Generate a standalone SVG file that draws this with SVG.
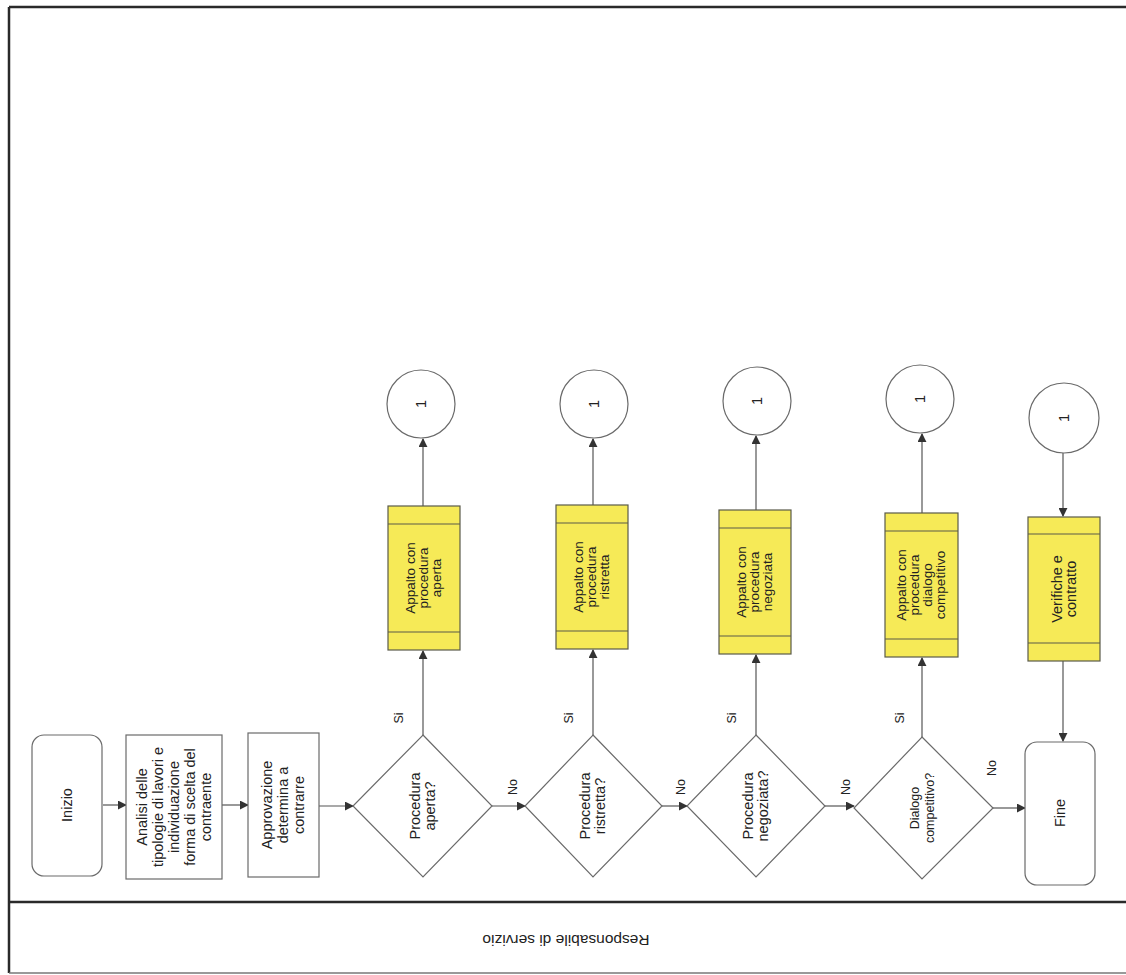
<svg xmlns="http://www.w3.org/2000/svg" width="1126" height="975" viewBox="0 0 1126 975">
<defs>
<style>
.frame{fill:none;stroke:#2a2a2a;stroke-width:2.5}
.box{fill:#ffffff;stroke:#6a6a6a;stroke-width:1.2}
.yel{fill:#f6ea57;stroke:#5a5a4a;stroke-width:1.2}
.yl{stroke:#5a5a4a;stroke-width:1.2}
.conn{fill:none;stroke:#555;stroke-width:1.2}
text{font-family:"Liberation Sans",Arial,sans-serif;font-size:14.5px;fill:#222;text-anchor:middle}
.lbl{font-size:12.5px}
.ytx{font-size:13.5px}
.sm{font-size:12.5px}
.lane{font-size:15.5px}
</style>
<marker id="arr" viewBox="0 0 10 10" refX="9" refY="5" markerWidth="9" markerHeight="9" markerUnits="userSpaceOnUse" orient="auto">
<path d="M0,0 L10,5 L0,10 z" fill="#333"/>
</marker>
</defs>
<rect width="1126" height="975" fill="#ffffff"/>
<g id="frame">
<line class="frame" x1="9" y1="7" x2="1126" y2="7"/>
<line class="frame" x1="9" y1="7" x2="9" y2="973"/>
<line class="frame" x1="9" y1="902" x2="1126" y2="902"/>
<line x1="9" y1="973" x2="1126" y2="973" stroke="#777" stroke-width="1.5"/>
<text class="lane" transform="translate(566,940) rotate(180)" dy="5">Responsabile di servizio</text>
</g>
<g id="connectors">
<line class="conn" x1="103" y1="805" x2="126" y2="805" marker-end="url(#arr)"/>
<line class="conn" x1="222" y1="805" x2="248" y2="805" marker-end="url(#arr)"/>
<line class="conn" x1="319" y1="806" x2="353" y2="806" marker-end="url(#arr)"/>
<line class="conn" x1="492" y1="806" x2="525" y2="806" marker-end="url(#arr)"/>
<line class="conn" x1="662" y1="806" x2="687" y2="806" marker-end="url(#arr)"/>
<line class="conn" x1="825" y1="806" x2="854" y2="806" marker-end="url(#arr)"/>
<line class="conn" x1="993" y1="808" x2="1025" y2="808" marker-end="url(#arr)"/>
<line class="conn" x1="423" y1="735" x2="423" y2="651" marker-end="url(#arr)"/>
<line class="conn" x1="593" y1="735" x2="593" y2="650" marker-end="url(#arr)"/>
<line class="conn" x1="756" y1="735" x2="756" y2="655" marker-end="url(#arr)"/>
<line class="conn" x1="922" y1="737" x2="922" y2="658" marker-end="url(#arr)"/>
<line class="conn" x1="423" y1="506" x2="423" y2="439" marker-end="url(#arr)"/>
<line class="conn" x1="593" y1="505" x2="593" y2="439" marker-end="url(#arr)"/>
<line class="conn" x1="756" y1="510" x2="756" y2="436" marker-end="url(#arr)"/>
<line class="conn" x1="922" y1="513" x2="922" y2="434" marker-end="url(#arr)"/>
<line class="conn" x1="1063" y1="453" x2="1063" y2="516" marker-end="url(#arr)"/>
<line class="conn" x1="1063" y1="661" x2="1063" y2="741" marker-end="url(#arr)"/>
<text class="lbl" transform="translate(398,718) rotate(-90)" dy="5">Si</text>
<text class="lbl" transform="translate(568,718) rotate(-90)" dy="5">Si</text>
<text class="lbl" transform="translate(731,718) rotate(-90)" dy="5">Si</text>
<text class="lbl" transform="translate(899,718) rotate(-90)" dy="5">Si</text>
<text class="lbl" transform="translate(512,787) rotate(-90)" dy="5">No</text>
<text class="lbl" transform="translate(680,787) rotate(-90)" dy="5">No</text>
<text class="lbl" transform="translate(845,787) rotate(-90)" dy="5">No</text>
<text class="lbl" transform="translate(991,768) rotate(-90)" dy="5">No</text>
</g>
<g id="n-inizio">
<rect class="box" x="32" y="735" width="70" height="141" rx="12"/>
<text transform="translate(67,805) rotate(-90)" dy="5">Inizio</text>
</g>
<g id="n-analisi">
<rect class="box" x="126" y="735" width="96" height="144"/>
<text transform="translate(174,807) rotate(-90)"><tspan x="0" dy="-27">Analisi delle</tspan><tspan x="0" dy="16">tipologie di lavori e</tspan><tspan x="0" dy="16">individuazione</tspan><tspan x="0" dy="16">forma di scelta del</tspan><tspan x="0" dy="16">contraente</tspan></text>
</g>
<g id="n-approvazione">
<rect class="box" x="248" y="733" width="71" height="144"/>
<text transform="translate(283,805) rotate(-90)"><tspan x="0" dy="-11">Approvazione</tspan><tspan x="0" dy="16">determina a</tspan><tspan x="0" dy="16">contrarre</tspan></text>
</g>
<g id="d-aperta">
<polygon class="box" points="423,735 492,806 423,877 353,806"/>
<text transform="translate(423,806) rotate(-90)"><tspan x="0" dy="-3">Procedura</tspan><tspan x="0" dy="15">aperta?</tspan></text>
</g>
<g id="d-ristretta">
<polygon class="box" points="593,735 662,806 593,877 525,806"/>
<text transform="translate(593,806) rotate(-90)"><tspan x="0" dy="-3">Procedura</tspan><tspan x="0" dy="15">ristretta?</tspan></text>
</g>
<g id="d-negoziata">
<polygon class="box" points="756,735 825,806 756,877 687,806"/>
<text transform="translate(756,806) rotate(-90)"><tspan x="0" dy="-3">Procedura</tspan><tspan x="0" dy="15">negoziata?</tspan></text>
</g>
<g id="d-dialogo">
<polygon class="box" points="922,737 993,808 922,879 854,808"/>
<text class="sm" transform="translate(922,808) rotate(-90)"><tspan x="0" dy="-3">Dialogo</tspan><tspan x="0" dy="15">competitivo?</tspan></text>
</g>
<g id="n-fine">
<rect class="box" x="1025" y="742" width="70" height="143" rx="12"/>
<text transform="translate(1060,813) rotate(-90)" dy="5">Fine</text>
</g>
<g id="p-aperta">
<rect class="yel" x="388" y="506" width="72" height="144"/>
<line class="yl" x1="388" y1="524" x2="460" y2="524"/>
<line class="yl" x1="388" y1="632" x2="460" y2="632"/>
<text class="ytx" transform="translate(424,578) rotate(-90)"><tspan x="0" dy="-9">Appalto con</tspan><tspan x="0" dy="13">procedura</tspan><tspan x="0" dy="13">aperta</tspan></text>
</g>
<g id="p-ristretta">
<rect class="yel" x="556" y="505" width="72" height="144"/>
<line class="yl" x1="556" y1="523" x2="628" y2="523"/>
<line class="yl" x1="556" y1="631" x2="628" y2="631"/>
<text class="ytx" transform="translate(592,577) rotate(-90)"><tspan x="0" dy="-9">Appalto con</tspan><tspan x="0" dy="13">procedura</tspan><tspan x="0" dy="13">ristretta</tspan></text>
</g>
<g id="p-negoziata">
<rect class="yel" x="719" y="510" width="72" height="144"/>
<line class="yl" x1="719" y1="528" x2="791" y2="528"/>
<line class="yl" x1="719" y1="636" x2="791" y2="636"/>
<text class="ytx" transform="translate(755,582) rotate(-90)"><tspan x="0" dy="-9">Appalto con</tspan><tspan x="0" dy="13">procedura</tspan><tspan x="0" dy="13">negoziata</tspan></text>
</g>
<g id="p-dialogo">
<rect class="yel" x="885" y="513" width="73" height="144"/>
<line class="yl" x1="885" y1="531" x2="958" y2="531"/>
<line class="yl" x1="885" y1="639" x2="958" y2="639"/>
<text class="ytx" transform="translate(921,585) rotate(-90)"><tspan x="0" dy="-15">Appalto con</tspan><tspan x="0" dy="13">procedura</tspan><tspan x="0" dy="13">dialogo</tspan><tspan x="0" dy="13">competitivo</tspan></text>
</g>
<g id="p-verifiche">
<rect class="yel" x="1028" y="517" width="72" height="144"/>
<line class="yl" x1="1028" y1="534" x2="1100" y2="534"/>
<line class="yl" x1="1028" y1="643" x2="1100" y2="643"/>
<text transform="translate(1064,589) rotate(-90)"><tspan x="0" dy="-2">Verifiche e</tspan><tspan x="0" dy="14">contratto</tspan></text>
</g>
<g id="c1-aperta"><circle class="box" cx="421" cy="404" r="34"/><text transform="translate(421,404) rotate(-90)" dy="5">1</text></g>
<g id="c1-ristretta"><circle class="box" cx="594" cy="404" r="34"/><text transform="translate(594,404) rotate(-90)" dy="5">1</text></g>
<g id="c1-negoziata"><circle class="box" cx="757" cy="401" r="34"/><text transform="translate(757,401) rotate(-90)" dy="5">1</text></g>
<g id="c1-dialogo"><circle class="box" cx="920" cy="399" r="34"/><text transform="translate(920,399) rotate(-90)" dy="5">1</text></g>
<g id="c1-verifiche"><circle class="box" cx="1064" cy="418" r="35"/><text transform="translate(1064,418) rotate(-90)" dy="5">1</text></g>
</svg>
